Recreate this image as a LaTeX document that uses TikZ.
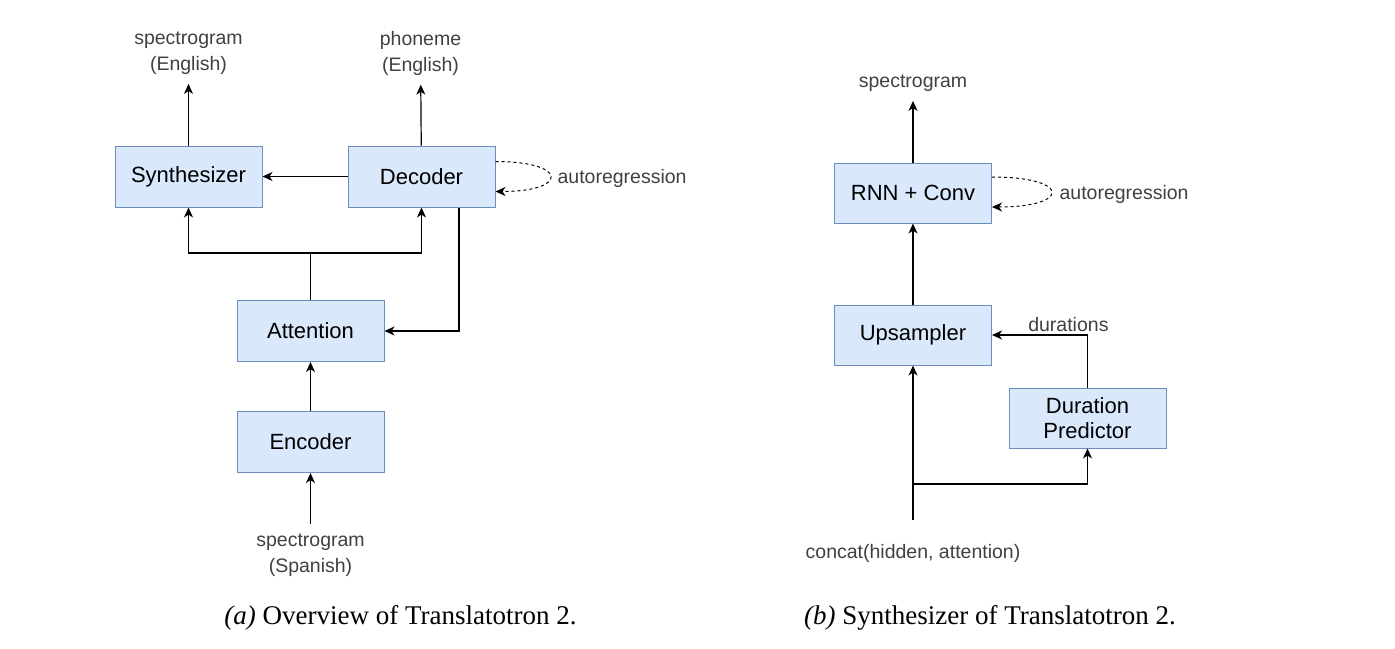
\documentclass[tikz,border=0pt]{standalone}
\usepackage{fontspec}
\setmainfont{Liberation Serif}
\setsansfont{Liberation Sans}
\usepackage{tikz}
\usetikzlibrary{arrows.meta,positioning}

\definecolor{boxfill}{HTML}{DAE8FC}
\definecolor{boxline}{HTML}{6C8EBF}
\definecolor{labelgray}{HTML}{404040}

\begin{document}
\begin{tikzpicture}[->,>={Stealth[length=10pt,width=9pt,inset=3pt]},x=1pt,y=-1pt,line width=1.2pt]

        \tikzstyle{block}=[draw=boxline,fill=boxfill,line width=1pt,minimum width=147pt,minimum height=61pt,inner sep=0pt,align=center,text=black,font=\sffamily\fontsize{22}{25}\selectfont]
        \tikzstyle{lbl}=[text=labelgray,align=center,inner sep=0pt,font=\sffamily\fontsize{19.5}{26}\selectfont]
        \tikzstyle{tolbl}=[shorten >=9pt]
        \tikzstyle{caption}=[text=black,inner sep=0pt,font=\rmfamily\fontsize{27}{32}\selectfont]

        \useasboundingbox (0,0) rectangle (1395,648);

        % (a) overview
        \node[block]            (synth)  at (188.5,176.5)     {Synthesizer};
        \node[block]            (decoder) [right=85pt of synth] {Decoder};
        \node[block]            (attention) at (310.5,331)  {Attention};
        \node[block]            (encoder) [below=49pt of attention] {Encoder};

        \node[lbl]              (specEn)  at (188.5,53)  {spectrogram\\(English)};
        \node[lbl]              (phonEn)  at (420.5,53)  {phoneme\\(English)};
        \node[lbl]              (specEs)  at (310.5,555) {spectrogram\\(Spanish)};
        \node[lbl, anchor=west] (autoA)   at (557,178.5) {autoregression};
        \coordinate             (attnSplit) at (310.5,253);

        \path
        (synth)    edge[tolbl] (specEn)
        (decoder)  edge[tolbl] (phonEn)
        (decoder)  edge        (synth)
        (encoder)  edge        (attention)
        (specEs)   edge[shorten <=9pt] (encoder)
        ;
        \draw[-] (attention) -- (attnSplit);
        \draw (attnSplit) -| (synth);
        \draw (attnSplit) -| (decoder);
        \draw ([xshift=37.5pt]decoder.south) |- (attention.east);
        \draw[dashed,line width=1pt] ([yshift=15pt]decoder.east) .. controls +(73,0) and +(73,0) .. ([yshift=-15pt]decoder.east);

        % (b) synthesizer
        \node[block, minimum width=157pt, minimum height=60pt] (rnn)       at (913,193)  {RNN + Conv};
        \node[block, minimum width=157pt, minimum height=60pt] (upsampler) [below=81pt of rnn] {Upsampler};
        \node[block, minimum width=157pt, minimum height=60pt] (duration)  at (1087.5,418) {Duration\\Predictor};

        \node[lbl]              (specOut) at (913,83)    {spectrogram};
        \node[lbl]              (concat)  at (913,553)   {concat(hidden, attention)};
        \node[lbl, anchor=west] (autoB)   at (1059,194.5)  {autoregression};
        \coordinate             (concatIn) at (913,520);
        \coordinate             (split)    at (913,484);

        \path
        (rnn)       edge[tolbl] (specOut)
        (upsampler) edge        (rnn)
        (concatIn)  edge        (upsampler)
        ;
        \draw (split) -| (duration);
        \draw (duration) |- (upsampler.east) node[lbl, pos=0.6, above=3pt] {durations};
        \draw[dashed,line width=1pt] ([yshift=16pt]rnn.east) .. controls +(79,0) and +(79,0) .. ([yshift=-14pt]rnn.east);

        % captions
        \node[caption] (capA) at (400.5,618) {\textit{(a)} Overview of Translatotron 2.};
        \node[caption] (capB) at (990,618)   {\textit{(b)} Synthesizer of Translatotron 2.};

\end{tikzpicture}
\end{document}
